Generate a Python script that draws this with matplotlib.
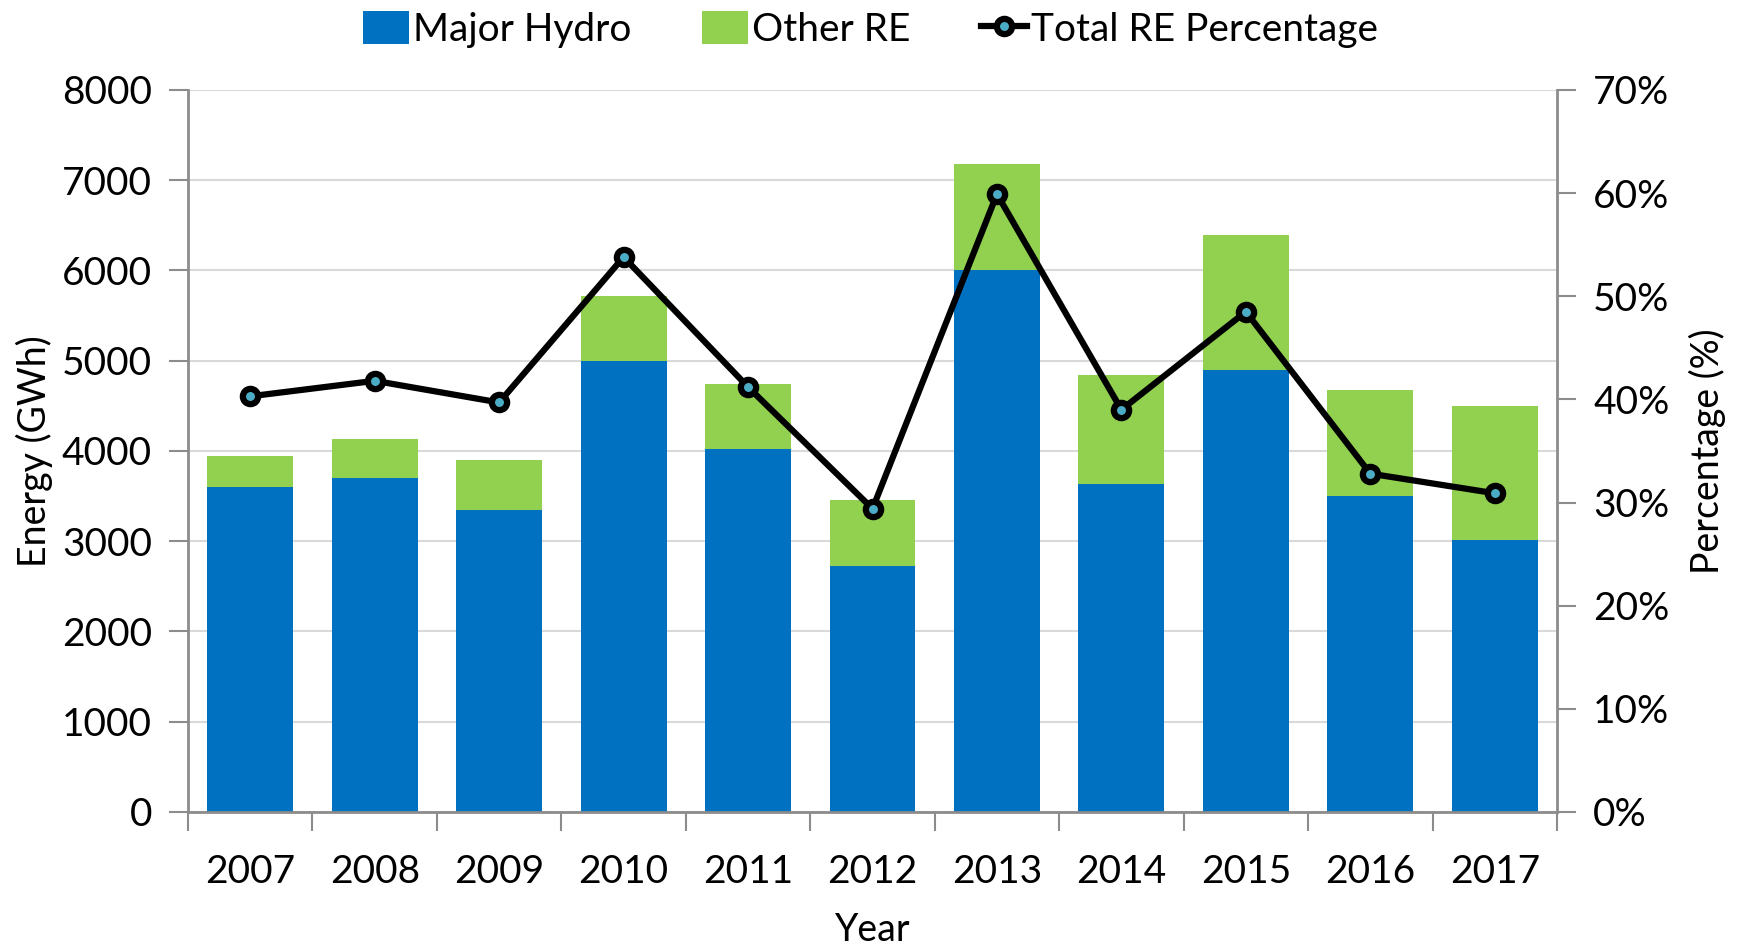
import matplotlib.pyplot as plt
from matplotlib.ticker import FuncFormatter, MultipleLocator

years = ['2007', '2008', '2009', '2010', '2011', '2012', '2013', '2014', '2015', '2016', '2017']
major_hydro = [3600, 3700, 3350, 5000, 4020, 2725, 6000, 3635, 4900, 3500, 3010]
total_re = [3945, 4130, 3905, 5715, 4745, 3455, 7175, 4840, 6390, 4670, 4500]
other_re = [t - h for t, h in zip(total_re, major_hydro)]
re_pct = [40.3, 41.8, 39.7, 53.8, 41.2, 29.4, 59.9, 39.0, 48.5, 32.8, 30.9]

plt.rcParams['font.family'] = ['Lato', 'DejaVu Sans']
grey = '#8c8c8c'

fig = plt.figure(figsize=(17.41, 9.47), dpi=100)
ax = fig.add_axes([0.108, 0.1426, 0.7863, 0.7624])
x = list(range(len(years)))

ax.bar(x, major_hydro, 0.69, color='#0070C0', label='Major Hydro', zorder=2)
ax.bar(x, other_re, 0.69, bottom=major_hydro, color='#92D050', label='Other RE', zorder=2)

ax.set_xlim(-0.5, len(years) - 0.5)
ax.set_ylim(0, 8000)
ax.yaxis.set_major_locator(MultipleLocator(1000))
ax.grid(axis='y', color='#d9d9d9', linewidth=1.5, zorder=0)
ax.set_axisbelow(True)

ax.set_xticks(x)
ax.set_xticklabels(years)
ax.set_xticks([i - 0.5 for i in range(len(years) + 1)], minor=True)
ax.tick_params(axis='x', which='major', length=0, pad=30, labelsize=28)
ax.tick_params(axis='x', which='minor', length=14, width=1.5, color=grey)
ax.tick_params(axis='y', length=14, width=1.5, color=grey, labelsize=28, pad=12)

for s in ['top', 'right']:
    ax.spines[s].set_visible(False)
for s in ['left', 'bottom']:
    ax.spines[s].set_color(grey)
    ax.spines[s].set_linewidth(2)

ax2 = ax.twinx()
line, = ax2.plot(x, re_pct, color='black', linewidth=4.5, marker='o', markersize=11,
                 markerfacecolor='#4BACC6', markeredgecolor='black', markeredgewidth=4.5,
                 label='Total RE Percentage', zorder=3)
ax2.set_ylim(0, 70)
ax2.yaxis.set_major_locator(MultipleLocator(10))
ax2.yaxis.set_major_formatter(FuncFormatter(lambda v, p: f'{v:.0f}%'))
ax2.tick_params(axis='y', length=14, width=1.5, color=grey, labelsize=28, pad=12)
for s in ['top', 'left', 'bottom']:
    ax2.spines[s].set_visible(False)
ax2.spines['right'].set_color(grey)
ax2.spines['right'].set_linewidth(2)

ax.set_ylabel('Energy (GWh)', fontsize=27, labelpad=6)
ax2.set_ylabel('Percentage (%)', fontsize=27, labelpad=14)
ax.set_xlabel('Year', fontsize=27, labelpad=16)

h1, l1 = ax.get_legend_handles_labels()
fig.legend(h1 + [line], l1 + ['Total RE Percentage'], loc='upper center',
           bbox_to_anchor=(0.5, 1.025), ncol=3, frameon=False, fontsize=28,
           handlelength=1.2, handleheight=0.9, handletextpad=0.1, columnspacing=1.8)

fig.savefig('out.png', dpi=100)
